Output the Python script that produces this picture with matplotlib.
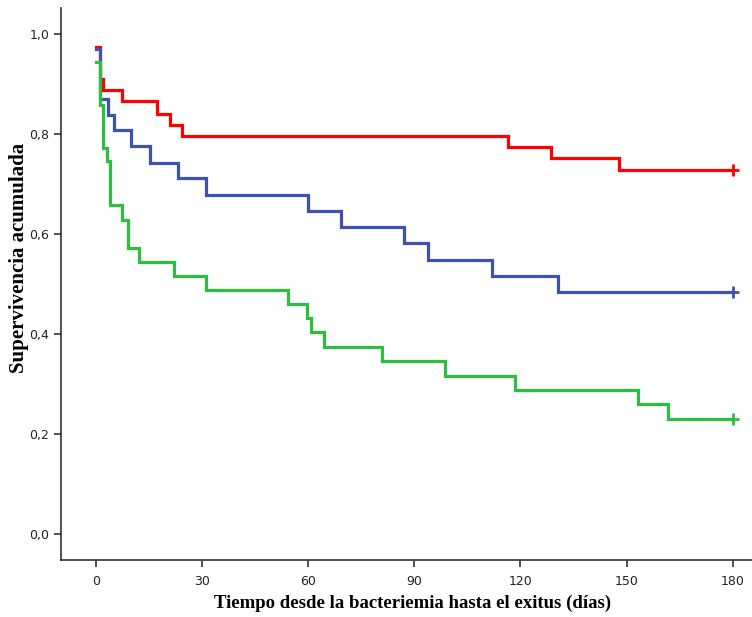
import numpy as np
import matplotlib
matplotlib.use('Agg')
import matplotlib.pyplot as plt

# Kaplan-Meier steps (time in days, cumulative survival)
red_t = [0, 1, 2, 7.3, 17.1, 20.9, 24.2, 116.4, 128.6, 147.8, 180]
red_s = [0.975, 0.91, 0.888, 0.866, 0.841, 0.819, 0.796, 0.774, 0.752, 0.728, 0.728]

blue_t = [0, 1, 3.2, 5.1, 9.9, 15.1, 23.1, 31.1, 59.9, 69.2, 87.0, 93.8, 111.9, 130.5, 180]
blue_s = [0.97, 0.871, 0.839, 0.809, 0.776, 0.743, 0.713, 0.679, 0.646, 0.614, 0.582, 0.548, 0.516, 0.484, 0.484]

green_t = [0, 1, 2, 3, 4, 7.3, 9.1, 12.1, 22.1, 31.0, 54.3, 59.6, 60.8, 64.4, 80.8, 98.6, 118.4, 153.2, 161.6, 180]
green_s = [0.945, 0.858, 0.773, 0.746, 0.658, 0.629, 0.573, 0.545, 0.516, 0.488, 0.46, 0.432, 0.404, 0.374, 0.346, 0.316, 0.288, 0.26, 0.229, 0.229]

x_ticks = [0, 30, 60, 90, 120, 150, 180]
y_ticks = [0.0, 0.2, 0.4, 0.6, 0.8, 1.0]
y_tick_labels = ['0,0', '0,2', '0,4', '0,6', '0,8', '1,0']

fig = plt.figure(figsize=(7.52, 6.17), dpi=100)
ax = fig.add_axes([0.0811, 0.0924, 0.9189, 0.8946])

series = [(red_t, red_s, '#FF0000'), (blue_t, blue_s, '#3F51B5'), (green_t, green_s, '#2DBE3F')]
for t, s, c in series:
    ax.step(t, s, where='post', color=c, lw=2.3, solid_joinstyle='miter')
    ax.plot(t[-1], s[-1], marker='+', color=c, ms=8, mew=2)

ax.set_xlim(-10, 185.5)
ax.set_ylim(-0.052, 1.052)
ax.set_xticks(x_ticks)
ax.set_xticklabels([str(v) for v in x_ticks])
ax.set_yticks(y_ticks)
ax.set_yticklabels(y_tick_labels)

for side in ['top', 'right']:
    ax.spines[side].set_visible(False)
for side in ['left', 'bottom']:
    ax.spines[side].set_color('#333333')
    ax.spines[side].set_linewidth(1.2)

ax.tick_params(axis='both', direction='out', length=5, width=1.2, color='#333333',
               labelsize=9, labelcolor='#222222')
ax.tick_params(axis='x', pad=6)

ax.set_xlabel('Tiempo desde la bacteriemia hasta el exitus (días)', family='Liberation Serif',
              fontweight='bold', fontsize=13.5)
ax.set_ylabel('Supervivencia acumulada', family='Liberation Serif', fontweight='bold',
              fontsize=15)
ax.xaxis.set_label_coords(0.509, -0.062)
ax.yaxis.set_label_coords(-0.046, 0.547)

fig.savefig('out.png', dpi=100)
